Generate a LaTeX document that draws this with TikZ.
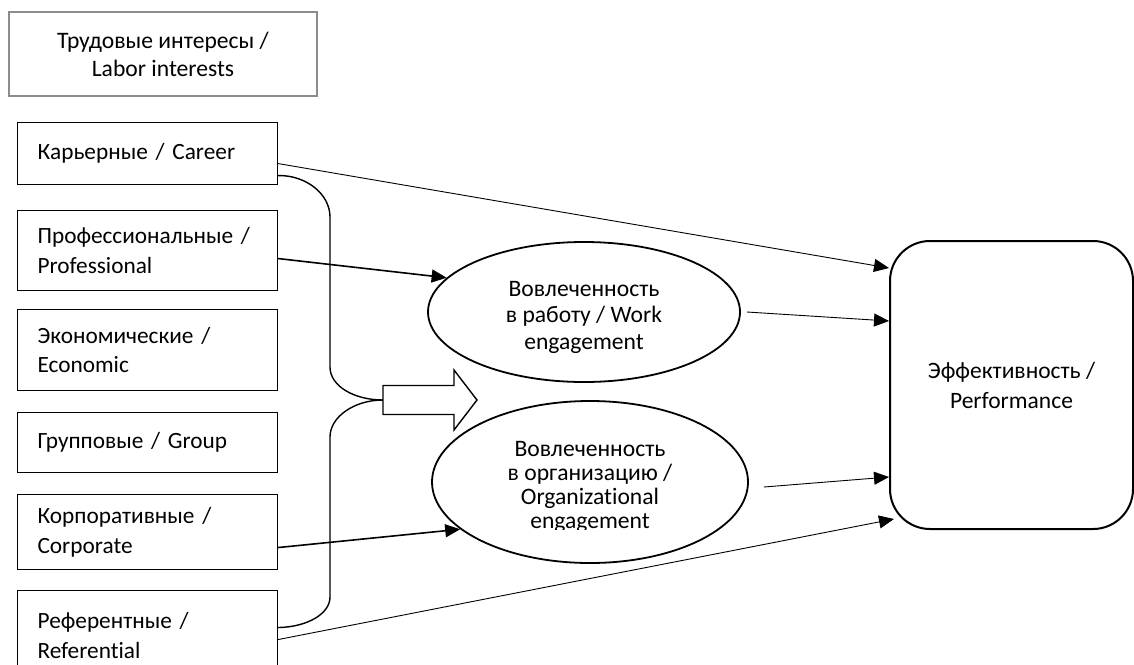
\documentclass[tikz,border=0pt]{standalone}
\usepackage{fontspec}
\setmainfont{Carlito}[RawFeature={-liga}]
\usetikzlibrary{arrows.meta,shapes.geometric}
\begin{document}
\begin{tikzpicture}[x=1pt,y=-1pt,
  interest/.style={draw, line width=1.1pt, anchor=north west,
    minimum width=260pt, text width=220pt, inner xsep=20pt, inner ysep=0pt,
    align=left, font=\fontsize{23.3}{29.5}\selectfont},
  engage/.style={draw, ellipse, line width=1.8pt, inner sep=0pt},
  engtext/.style={align=center, inner sep=0pt},
  thin/.style={line width=0.9pt, -{Triangle[length=15pt,width=13pt]}},
  thick/.style={line width=1.6pt, -{Triangle[length=15pt,width=13pt]}},
  brace/.style={line width=1.4pt},
]
\useasboundingbox (0,0) rectangle (1134,664);

% header
\node[draw=black!45, line width=2pt, minimum width=308pt, minimum height=84pt,
  align=center, font=\fontsize{23.6}{28}\selectfont] (labor) at (163,54)
  {Трудовые интересы /\\Labor interests};

% kinds of labor interests
\node[interest, minimum height=62pt] (career) at (17,122) {Карьерные / Career\vphantom{p}\\[-6pt]};
\node[interest, minimum height=80pt] (prof) at (17,210) {Профессиональные /\\Professional};
\node[interest, minimum height=81pt] (econ) at (17,309) {Экономические /\\Economic};
\node[interest, minimum height=60pt] (group) at (17,412) {Групповые / Group};
\node[interest, minimum height=75pt] (corp) at (17,494) {Корпоративные /\\Corporate};
\node[interest, minimum height=90pt] (ref) at (17,590) {Референтные /\\Referential};

% engagement
\node[engage, minimum width=312pt, minimum height=140pt] (work) at (584,312) {};
\node[engtext, font=\fontsize{23.6}{26.5}\selectfont] (worktext) at (584,317)
  {Вовлеченность\\в работу / Work\\engagement};
\node[engage, minimum width=316pt, minimum height=162pt] (org) at (590,482) {};
\begin{scope}
  \clip (430,400) rectangle (750,529);
  \node[engtext, font=\fontsize{23.6}{24.2}\selectfont] (orgtext) at (590,487)
    {Вовлеченность\\в организацию /\\Organizational\\engagement};
\end{scope}

% performance
\node[draw, rounded corners=40pt, line width=2pt, minimum width=243pt,
  minimum height=288pt, align=center, font=\fontsize{23.5}{30}\selectfont]
  (perf) at (1011.5,385) {Эффективность /\\Performance};

% grouping brace and block arrow
\coordinate (hub) at (383,400);
\draw[brace] ([yshift=-22pt]career.east) .. controls (306,175) and (330,194) .. (330,217)
  -- (330,367) .. controls (330,386) and (354,400) .. (hub);
\draw[brace] ([yshift=8pt]ref.east) .. controls (307,627) and (330,614) .. (330,597)
  -- (330,437) .. controls (330,417) and (354,400) .. (hub);
\draw[line width=1.4pt, fill=white] (hub) ++(0,-14.5) -- ++(71,0) -- ++(0,-15.5)
  -- ++(23,30) -- ++(-23,30) -- ++(0,-15.5) -- ++(-71,0) -- cycle;

% connectors
\draw[thin] ([yshift=-10pt]career.east) -- ([yshift=117pt]perf.west);
\draw[thick] ([yshift=-8pt]prof.east) -- (work.166.6);
\draw[thin] ([xshift=6pt]work.east) -- ([yshift=64pt]perf.west);
\draw[thin] ([xshift=15pt,yshift=-5pt]org.east) -- ([yshift=-92pt]perf.west);
\draw[thick] ([yshift=-15.5pt]corp.east) -- (org.200);
\draw[thin] ([yshift=-4pt]ref.east) -- ([xshift=5pt,yshift=-134pt]perf.west);
\end{tikzpicture}
\end{document}
